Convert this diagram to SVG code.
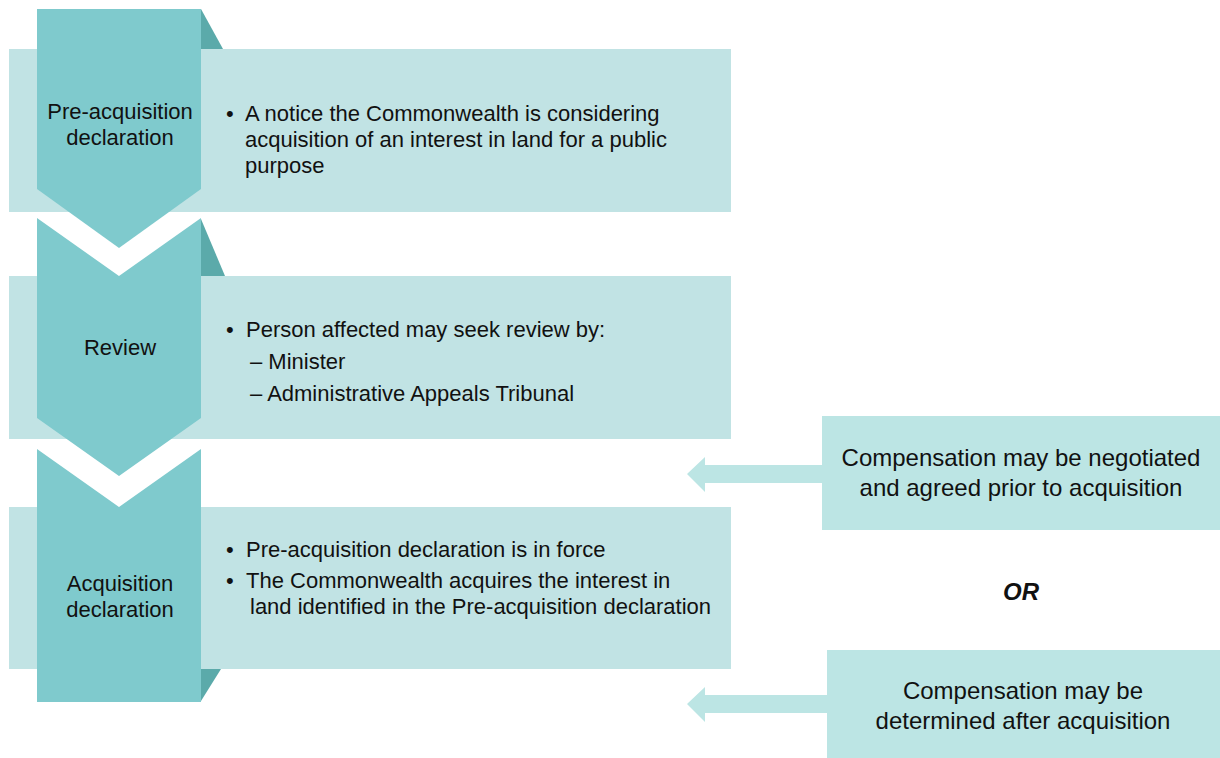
<svg xmlns="http://www.w3.org/2000/svg" width="1220" height="758" viewBox="0 0 1220 758">
<style>
.band{fill:#C1E3E4}
.chev{fill:#7FCACD}
.fold{fill:#5BAAAA}
.box{fill:#BCE5E4}
.arr{fill:#BCE5E4}
text{font-family:"Liberation Sans",Arial,sans-serif;fill:#111}
.t22{font-size:22px}
.t24{font-size:24px}
.c{text-anchor:middle}
.or{font-size:24px;font-weight:bold;font-style:italic}
</style>
<rect width="1220" height="758" fill="#fff"/>
<g id="step1">
<rect class="band" x="9" y="49" width="722" height="163"/>
<polygon class="fold" points="201,9 223,49 201,49"/>
<polygon class="chev" points="37,9 201,9 201,189 119,248 37,189"/>
<text class="t22 c" x="120" y="119">Pre-acquisition</text>
<text class="t22 c" x="120" y="145">declaration</text>
<text class="t22" x="226" y="121">•</text>
<text class="t22" x="245" y="121">A notice the Commonwealth is considering</text>
<text class="t22" x="245" y="147">acquisition of an interest in land for a public</text>
<text class="t22" x="245" y="173">purpose</text>
</g>
<g id="step2">
<rect class="band" x="9" y="276" width="722" height="163"/>
<polygon class="fold" points="201,219 225,276 201,276"/>
<polygon class="chev" points="37,218 119,276 201,218 201,418 119,476 37,418"/>
<text class="t22 c" x="120" y="355">Review</text>
<text class="t22" x="226" y="337">•</text>
<text class="t22" x="246" y="337">Person affected may seek review by:</text>
<text class="t22" x="250" y="369">– Minister</text>
<text class="t22" x="250" y="401">– Administrative Appeals Tribunal</text>
</g>
<g id="step3">
<rect class="band" x="9" y="507" width="722" height="162"/>
<polygon class="fold" points="201,669 221,669 201,701"/>
<polygon class="chev" points="37,449 119,507 201,449 201,702 37,702"/>
<text class="t22 c" x="120" y="591">Acquisition</text>
<text class="t22 c" x="120" y="617">declaration</text>
<text class="t22" x="226" y="557">•</text>
<text class="t22" x="246" y="557">Pre-acquisition declaration is in force</text>
<text class="t22" x="226" y="588">•</text>
<text class="t22" x="246" y="588">The Commonwealth acquires the interest in</text>
<text class="t22" x="250" y="614">land identified in the Pre-acquisition declaration</text>
</g>
<g id="comp1">
<rect class="box" x="822" y="416" width="398" height="114"/>
<text class="t24 c" x="1021" y="466">Compensation may be negotiated</text>
<text class="t24 c" x="1021" y="496">and agreed prior to acquisition</text>
</g>
<g id="or">
<text class="or c" x="1021" y="600">OR</text>
</g>
<g id="comp2">
<rect class="box" x="827" y="650" width="393" height="108"/>
<text class="t24 c" x="1023" y="699">Compensation may be</text>
<text class="t24 c" x="1023" y="729">determined after acquisition</text>
</g>
<g id="connectors">
<polygon class="arr" points="822,465 705,465 705,457 687,474 705,492 705,483 822,483"/>
<polygon class="arr" points="827,695 705,695 705,687 687,704 705,722 705,713 827,713"/>
</g>
</svg>
